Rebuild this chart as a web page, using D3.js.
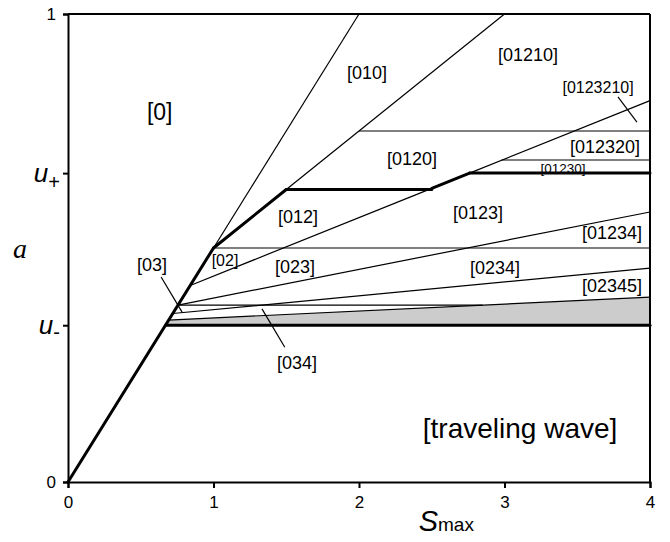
<!DOCTYPE html>
<html><head><meta charset="utf-8">
<script src="https://cdn.jsdelivr.net/npm/d3@7"></script>
<style>body{margin:0;background:#fff}svg{display:block}</style>
</head><body>
<svg id="chart" width="670" height="542"></svg>
<script>
// ---- data (s = S_max, a) ----
const xTicks = [0, 1, 2, 3, 4];
const yTickValues = [0, 0.335, 0.66, 1];
const yTickLabels = ["0", "u-", "u+", "1"];

// thin boundary segments [s1, a1, s2, a2]
const thinSegments = [
  [1, 0.5, 2, 1],
  [1.5, 0.625, 3, 1],
  [0.84, 0.42, 2.5, 0.6275],
  [2.76, 0.66, 4, 0.815],
  [2, 0.75, 4, 0.75],
  [2.98, 0.688, 4, 0.688],
  [1, 0.5, 4, 0.5],
  [0.756, 0.378, 4, 0.577],
  [0.756, 0.378, 2.85, 0.378],
  [0.72, 0.36, 4, 0.457],
  [0.69, 0.346, 4, 0.395]
];
// heavy segments
const heavySegments = [
  [0, 0, 1, 0.5],
  [1, 0.5, 1.5, 0.625],
  [1.5, 0.625, 2.5, 0.625],
  [2.5, 0.6275, 2.76, 0.66],
  [2.76, 0.66, 4, 0.66],
  [0.67, 0.335, 4, 0.335]
];
// shaded region
const grayRegion = [[0.67, 0.335], [0.69, 0.346], [4, 0.395], [4, 0.335]];
// pointer lines
const pointers = [
  [3.78, 0.823, 3.91, 0.769],
  [0.64, 0.438, 0.784, 0.363],
  [1.49, 0.288, 1.333, 0.37]
];
// region labels
const labels = [
  {t: "[0]", s: 0.63, a: 0.79, f: 23},
  {t: "[010]", s: 2.055, a: 0.874, f: 18},
  {t: "[01210]", s: 3.162, a: 0.912, f: 18},
  {t: "[0123210]", s: 3.643, a: 0.844, f: 16},
  {t: "[0120]", s: 2.364, a: 0.690, f: 18},
  {t: "[012320]", s: 3.691, a: 0.716, f: 18},
  {t: "[01230]", s: 3.402, a: 0.671, f: 13.5},
  {t: "[012]", s: 1.581, a: 0.566, f: 18},
  {t: "[0123]", s: 2.818, a: 0.575, f: 18},
  {t: "[01234]", s: 3.739, a: 0.532, f: 18},
  {t: "[02]", s: 1.079, a: 0.474, f: 16},
  {t: "[023]", s: 1.560, a: 0.459, f: 18},
  {t: "[0234]", s: 2.935, a: 0.457, f: 18},
  {t: "[02345]", s: 3.739, a: 0.419, f: 18},
  {t: "[03]", s: 0.577, a: 0.464, f: 18},
  {t: "[034]", s: 1.574, a: 0.254, f: 18},
  {t: "[traveling wave]", s: 3.107, a: 0.116, f: 28}
];

// ---- layout ----
const W = 670, H = 542;
const margin = {left: 68, right: 20, top: 14, bottom: 60};
const svg = d3.select("#chart");
const x = d3.scaleLinear().domain([0, 4]).range([margin.left, W - margin.right]);
const y = d3.scaleLinear().domain([0, 1]).range([H - margin.bottom, margin.top]);
const font = "'Liberation Sans', Arial, sans-serif";

// gray region
svg.append("path")
  .datum(grayRegion)
  .attr("d", d3.line().x(d => x(d[0])).y(d => y(d[1])))
  .attr("fill", "#cccccc").attr("stroke", "none");

// thin lines
svg.append("g").selectAll("line").data(thinSegments).join("line")
  .attr("x1", d => x(d[0])).attr("y1", d => y(d[1]))
  .attr("x2", d => x(d[2])).attr("y2", d => y(d[3]))
  .attr("stroke", "#000").attr("stroke-width", 1.2);

// pointers
svg.append("g").selectAll("line").data(pointers).join("line")
  .attr("x1", d => x(d[0])).attr("y1", d => y(d[1]))
  .attr("x2", d => x(d[2])).attr("y2", d => y(d[3]))
  .attr("stroke", "#000").attr("stroke-width", 1.2);

// heavy lines
svg.append("g").selectAll("line").data(heavySegments).join("line")
  .attr("x1", d => x(d[0])).attr("y1", d => y(d[1]))
  .attr("x2", d => x(d[2])).attr("y2", d => y(d[3]))
  .attr("stroke", "#000").attr("stroke-width", 3).attr("stroke-linecap", "round");

// frame (top & right)
svg.append("line").attr("x1", x(0)).attr("x2", x(4)).attr("y1", y(1)).attr("y2", y(1))
  .attr("stroke", "#000").attr("stroke-width", 2);
svg.append("line").attr("x1", x(4)).attr("x2", x(4)).attr("y1", y(1)).attr("y2", y(0))
  .attr("stroke", "#000").attr("stroke-width", 2);

// axes
const xAxis = svg.append("g").attr("transform", `translate(0,${y(0)})`)
  .call(d3.axisBottom(x).tickValues(xTicks).tickFormat(d3.format("d")).tickSize(6).tickPadding(8));
const yAxis = svg.append("g").attr("transform", `translate(${x(0)},0)`)
  .call(d3.axisLeft(y).tickValues(yTickValues).tickFormat("").tickSize(5));
[xAxis, yAxis].forEach(g => {
  g.select(".domain").attr("stroke-width", 2);
  g.selectAll(".tick line").attr("stroke-width", 2);
});
xAxis.selectAll("text").attr("font-family", font).attr("font-size", 17).attr("fill", "#000");

// y tick labels (with italic u and sub/superscripts)
yTickValues.forEach((v, i) => {
  const lab = yTickLabels[i];
  const t = svg.append("text").attr("y", y(v)).attr("dy", "0.35em")
    .attr("text-anchor", "end").attr("font-family", font).attr("fill", "#000");
  if (lab.startsWith("u")) {
    t.attr("x", x(0) - 8).attr("font-size", 26);
    t.append("tspan").attr("font-style", "italic").text("u");
    t.append("tspan").attr("font-size", 20).attr("dy", lab === "u+" ? 7 : 5).text(lab === "u+" ? "+" : "-");
  } else {
    t.attr("x", x(0) - 12).attr("font-size", 17).text(lab);
  }
});

// y axis title
svg.append("text").attr("x", 20).attr("y", y(0.5)).attr("dy", "0.35em")
  .attr("text-anchor", "middle").attr("font-family", "'Liberation Serif', serif")
  .attr("font-style", "italic").attr("font-size", 28).text("a");

// x axis title
const xt = svg.append("text").attr("x", x(2.6)).attr("y", 531)
  .attr("text-anchor", "middle").attr("font-family", font).attr("fill", "#000");
xt.append("tspan").attr("font-size", 29).attr("font-style", "italic").text("S");
xt.append("tspan").attr("font-size", 19).text("max");

// region labels
svg.append("g").selectAll("text").data(labels).join("text")
  .attr("x", d => x(d.s)).attr("y", d => y(d.a)).attr("dy", "0.35em")
  .attr("text-anchor", "middle").attr("font-family", font)
  .attr("font-size", d => d.f).attr("fill", "#000").text(d => d.t);
</script>
</body></html>
